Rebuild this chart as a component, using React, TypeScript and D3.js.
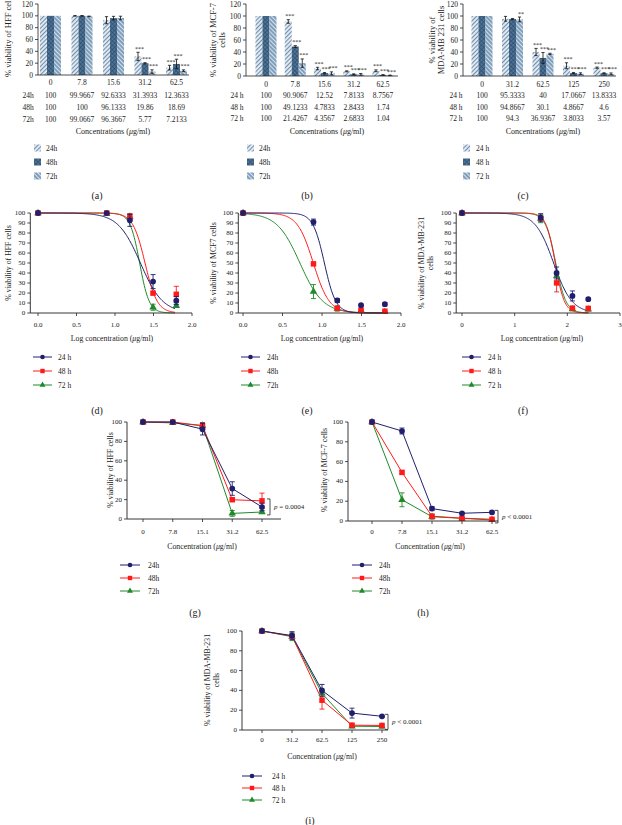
import React from "react";
import * as d3 from "d3";

const FONT = "'Liberation Serif','Times New Roman',serif";
const NAVY = "#1f1f6e";
const RED = "#ff1a1a";
const GREEN = "#1f8a2a";
const COLORS = [NAVY, RED, GREEN];

// ---------- data ----------
const hffCats = ["0", "7.8", "15.6", "31.2", "62.5"];
const mcfCats = ["0", "7.8", "15.6", "31.2", "62.5"];
const mdaCats = ["0", "31.2", "62.5", "125", "250"];
const lineCatsHM = ["0", "7.8", "15.1", "31.2", "62.5"];
const lineCatsMda = ["0", "31.2", "62.5", "125", "250"];

const hffConc = [0, 7.8, 15.6, 31.2, 62.5];
const mcfConc = [0, 7.8, 15.6, 31.2, 62.5];
const mdaConc = [0, 31.2, 62.5, 125, 250];

const hff24 = [100, 99.9667, 92.6333, 31.3933, 12.3633];
const hff48 = [100, 100, 96.1333, 19.86, 18.69];
const hff72 = [100, 99.0667, 96.3667, 5.77, 7.2133];
const mcf24 = [100, 90.9067, 12.52, 7.8133, 8.7567];
const mcf48 = [100, 49.1233, 4.7833, 2.8433, 1.74];
const mcf72 = [100, 21.4267, 4.3567, 2.6833, 1.04];
const mda24 = [100, 95.3333, 40, 17.0667, 13.8333];
const mda48 = [100, 94.8667, 30.1, 4.8667, 4.6];
const mda72 = [100, 94.3, 36.9367, 3.8033, 3.57];

const hffSd24 = [0, 0.5, 6, 7, 4];
const hffSd48 = [0, 0.5, 3, 1, 8];
const hffSd72 = [0, 0.5, 3, 3, 1.5];
const mcfSd24 = [0, 3, 2, 0.8, 1.5];
const mcfSd48 = [0, 1.5, 1, 0.8, 0.5];
const mcfSd72 = [0, 7, 2.5, 1.5, 0.5];
const mdaSd24 = [0, 4, 6, 5, 1];
const mdaSd48 = [0, 1, 9, 1, 0.8];
const mdaSd72 = [0, 4, 1, 1.5, 1.5];

const hffStars24 = ["", "", "", "***", "***"];
const hffStars48 = ["", "", "", "***", "***"];
const hffStars72 = ["", "", "", "***", "***"];
const mcfStars24 = ["", "***", "***", "***", "***"];
const mcfStars48 = ["", "***", "***", "***", "***"];
const mcfStars72 = ["", "***", "***", "***", "***"];
const mdaStars24 = ["", "", "***", "***", "***"];
const mdaStars48 = ["", "", "***", "***", "***"];
const mdaStars72 = ["", "**", "***", "***", "***"];

// sigmoid fit parameters (log IC50, Hill slope) for 24h, 48h, 72h
const hffLogIC50 = [1.33, 1.39, 1.32];
const hffHill = [3, 5.5, 7];
const mcfLogIC50 = [1.03, 0.89, 0.72];
const mcfHill = [6, 4.3, 3];
const mdaLogIC50 = [1.74, 1.77, 1.78];
const mdaHill = [2.5, 5, 4.5];

const pHff = "= 0.0004";
const pMcf = "< 0.0001";
const pMda = "< 0.0001";

// ---------- helpers ----------
const Mu = () => <tspan fontStyle="italic">μ</tspan>;

const symGen = [
  d3.symbol(d3.symbolCircle, 26)(),
  d3.symbol(d3.symbolSquare, 30)(),
  d3.symbol(d3.symbolTriangle, 24)(),
];

function BarPanel({ cfg, cats, series, sds, stars, rowLabels, legLabels, yLines }: any) {
  const y = d3.scaleLinear().domain([0, 120]).range([cfg.y0, cfg.yTop]);
  const x = d3.scalePoint<string>().domain(cats).range([cfg.c0, cfg.c1]);
  const ticks = d3.range(0, 121, 20);
  const bw = cfg.bw;
  return (
    <g>
      {series.map((vals: number[], s: number) =>
        vals.map((v, i) => {
          const cx = (x(cats[i]) as number) + (s - 1) * bw;
          return (
            <rect key={`b${s}-${i}`} x={cx - bw / 2} y={y(v)} width={bw} height={cfg.y0 - y(v)} fill={`url(#bp${s})`} />
          );
        })
      )}
      {series.map((vals: number[], s: number) =>
        vals.map((v, i) => {
          const sd = sds[s][i];
          if (sd <= 0) return null;
          const cx = (x(cats[i]) as number) + (s - 1) * bw;
          return (
            <g key={`e${s}-${i}`} stroke="#111" strokeWidth={0.8}>
              <line x1={cx} x2={cx} y1={y(v - sd)} y2={y(v + sd)} />
              <line x1={cx - 1.6} x2={cx + 1.6} y1={y(v - sd)} y2={y(v - sd)} />
              <line x1={cx - 1.6} x2={cx + 1.6} y1={y(v + sd)} y2={y(v + sd)} />
            </g>
          );
        })
      )}
      {series.map((vals: number[], s: number) =>
        vals.map((v, i) => {
          const st = stars[s][i];
          if (!st) return null;
          const cx = (x(cats[i]) as number) + (s - 1) * bw + 1.5;
          return (
            <text key={`s${s}-${i}`} x={cx} y={y(v + sds[s][i]) - 1.5} fontSize={6} textAnchor="middle" fill="#222">
              {st}
            </text>
          );
        })
      )}
      {/* axes */}
      <line x1={cfg.axisX} x2={cfg.axisX} y1={cfg.y0} y2={cfg.yTop} stroke="#222" strokeWidth={0.8} />
      <line x1={cfg.axisX} x2={cfg.axisEnd} y1={cfg.y0} y2={cfg.y0} stroke="#222" strokeWidth={0.8} />
      {ticks.map((t) => (
        <g key={`t${t}`}>
          <line x1={cfg.axisX - 3} x2={cfg.axisX} y1={y(t)} y2={y(t)} stroke="#222" strokeWidth={0.8} />
          <text x={cfg.axisX - 5} y={y(t)} fontSize={7.5} textAnchor="end" dominantBaseline="central" fill="#222">
            {t}
          </text>
        </g>
      ))}
      {/* table */}
      {cats.map((c: string) => (
        <text key={`c${c}`} x={x(c)} y={cfg.catY} fontSize={7.5} textAnchor="middle" dominantBaseline="central" fill="#222">
          {c}
        </text>
      ))}
      {series.map((vals: number[], s: number) => (
        <g key={`row${s}`}>
          <text x={cfg.rowX} y={cfg.rowYs[s]} fontSize={7.5} textAnchor="middle" dominantBaseline="central" fill="#222">
            {rowLabels[s]}
          </text>
          {vals.map((v, i) => (
            <text key={i} x={x(cats[i])} y={cfg.rowYs[s]} fontSize={7.5} textAnchor="middle" dominantBaseline="central" fill="#222">
              {String(v)}
            </text>
          ))}
        </g>
      ))}
      <text x={cfg.concX} y={cfg.concY} fontSize={8} textAnchor="middle" dominantBaseline="central" fill="#222">
        Concentrations (<Mu />g/ml)
      </text>
      {/* y label */}
      {yLines.map((l: string, k: number) => (
        <text key={`yl${k}`} transform={`translate(${cfg.yLabX[k]},${cfg.yLabY}) rotate(-90)`} fontSize={8.5} textAnchor="middle" dominantBaseline="central" fill="#222">
          {l}
        </text>
      ))}
      {/* legend */}
      {legLabels.map((l: string, s: number) => (
        <g key={`lg${s}`}>
          <rect x={cfg.legIconX} y={cfg.legYs[s] - 3.5} width={7} height={7} fill={`url(#bp${s})`} />
          <text x={cfg.legTextX} y={cfg.legYs[s]} fontSize={7.5} dominantBaseline="central" fill="#222">
            {l}
          </text>
        </g>
      ))}
      <text x={cfg.panX} y={cfg.panY} fontSize={10} textAnchor="middle" dominantBaseline="central" fill="#222">
        {cfg.panel}
      </text>
    </g>
  );
}

function LineLegend({ cfg, legLabels }: any) {
  return (
    <g>
      {legLabels.map((l: string, s: number) => (
        <g key={`ll${s}`}>
          <line x1={cfg.legX0} x2={cfg.legX1} y1={cfg.legYs[s]} y2={cfg.legYs[s]} stroke={COLORS[s]} strokeWidth={1} />
          <path d={symGen[s] as string} transform={`translate(${(cfg.legX0 + cfg.legX1) / 2},${cfg.legYs[s]}) scale(0.8)`} fill={COLORS[s]} />
          <text x={cfg.legTextX} y={cfg.legYs[s]} fontSize={7.5} dominantBaseline="central" fill="#222">
            {l}
          </text>
        </g>
      ))}
      <text x={cfg.panX} y={cfg.panY} fontSize={10} textAnchor="middle" dominantBaseline="central" fill="#222">
        {cfg.panel}
      </text>
    </g>
  );
}

function CurvePanel({ cfg, conc, series, sds, ic50, hill, legLabels, yLines }: any) {
  const x = d3.scaleLinear().domain(cfg.xDom).range(cfg.xRange);
  const y = d3.scaleLinear().domain([0, 100]).range([cfg.y0, cfg.y100]);
  const xs = conc.map((c: number) => (c === 0 ? 0 : Math.log10(c)));
  const line = d3.line<[number, number]>().x((d) => x(d[0])).y((d) => y(d[1]));
  const grid = d3.range(0, cfg.xEnd + 0.0001, 0.01);
  const order = [2, 1, 0];
  return (
    <g>
      {order.map((s) => (
        <path
          key={`cv${s}`}
          d={line(grid.map((t) => [t, 100 / (1 + Math.pow(10, (t - ic50[s]) * hill[s]))] as [number, number])) as string}
          fill="none"
          stroke={COLORS[s]}
          strokeWidth={1}
        />
      ))}
      {order.map((s) =>
        series[s].map((v: number, i: number) => {
          const sd = sds[s][i];
          const px = x(xs[i]);
          return (
            <g key={`pt${s}-${i}`}>
              {sd > 0 && (
                <g stroke={COLORS[s]} strokeWidth={0.9}>
                  <line x1={px} x2={px} y1={y(v - sd)} y2={y(v + sd)} />
                  <line x1={px - 2.5} x2={px + 2.5} y1={y(v - sd)} y2={y(v - sd)} />
                  <line x1={px - 2.5} x2={px + 2.5} y1={y(v + sd)} y2={y(v + sd)} />
                </g>
              )}
              <path d={symGen[s] as string} transform={`translate(${px},${y(v)})`} fill={COLORS[s]} />
            </g>
          );
        })
      )}
      {/* axes */}
      <line x1={x(cfg.xDom[0])} x2={x(cfg.xDom[0])} y1={cfg.y0} y2={cfg.y100} stroke="#222" strokeWidth={0.9} />
      <line x1={x(cfg.xDom[0])} x2={x(cfg.xDom[1])} y1={cfg.y0} y2={cfg.y0} stroke="#222" strokeWidth={0.9} />
      {d3.range(0, 101, 10).map((t) => (
        <g key={`yt${t}`}>
          <line x1={x(cfg.xDom[0]) - 3} x2={x(cfg.xDom[0])} y1={y(t)} y2={y(t)} stroke="#222" strokeWidth={0.8} />
          <text x={x(cfg.xDom[0]) - 5} y={y(t)} fontSize={7} textAnchor="end" dominantBaseline="central" fill="#222">
            {t}
          </text>
        </g>
      ))}
      {cfg.xTicks.map((t: number) => (
        <g key={`xt${t}`}>
          <line x1={x(t)} x2={x(t)} y1={cfg.y0} y2={cfg.y0 + 3} stroke="#222" strokeWidth={0.8} />
          <text x={x(t)} y={cfg.y0 + 12} fontSize={7} textAnchor="middle" dominantBaseline="central" fill="#222">
            {d3.format(cfg.xFmt)(t)}
          </text>
        </g>
      ))}
      <text x={cfg.titleX} y={cfg.titleY} fontSize={7.8} textAnchor="middle" dominantBaseline="central" fill="#222">
        Log concentration (<Mu />g/ml)
      </text>
      {yLines.map((l: string, k: number) => (
        <text key={`yl${k}`} transform={`translate(${cfg.yLabX[k]},${cfg.yLabY}) rotate(-90)`} fontSize={7.8} textAnchor="middle" dominantBaseline="central" fill="#222">
          {l}
        </text>
      ))}
      <LineLegend cfg={cfg} legLabels={legLabels} />
    </g>
  );
}

function CatPanel({ cfg, cats, series, sds, pText, legLabels, yLines }: any) {
  const x = d3.scalePoint<string>().domain(cats).range([cfg.c0, cfg.c1]);
  const y = d3.scaleLinear().domain([0, 100]).range([cfg.y0, cfg.y100]);
  const order = [2, 1, 0];
  const line = d3.line<number>().x((_, i) => x(cats[i]) as number).y((d) => y(d));
  const last = series.map((v: number[]) => v[v.length - 1]);
  const bTop = y((d3.max(last) as number) + 2);
  const bBot = y((d3.min(last) as number) - 3);
  const bx = (x(cats[cats.length - 1]) as number) + cfg.bOff;
  return (
    <g>
      {order.map((s) => (
        <path key={`ln${s}`} d={line(series[s]) as string} fill="none" stroke={COLORS[s]} strokeWidth={1} />
      ))}
      {order.map((s) =>
        series[s].map((v: number, i: number) => {
          const sd = sds[s][i];
          const px = x(cats[i]) as number;
          return (
            <g key={`pt${s}-${i}`}>
              {sd > 0 && (
                <g stroke={COLORS[s]} strokeWidth={0.9}>
                  <line x1={px} x2={px} y1={y(v - sd)} y2={y(v + sd)} />
                  <line x1={px - 2.5} x2={px + 2.5} y1={y(v - sd)} y2={y(v - sd)} />
                  <line x1={px - 2.5} x2={px + 2.5} y1={y(v + sd)} y2={y(v + sd)} />
                </g>
              )}
              <path d={symGen[s] as string} transform={`translate(${px},${y(v)})`} fill={COLORS[s]} />
            </g>
          );
        })
      )}
      <line x1={cfg.axisX} x2={cfg.axisX} y1={cfg.y0} y2={cfg.y100} stroke="#222" strokeWidth={0.9} />
      <line x1={cfg.axisX} x2={cfg.axisEnd} y1={cfg.y0} y2={cfg.y0} stroke="#222" strokeWidth={0.9} />
      {d3.range(0, 101, 20).map((t) => (
        <g key={`yt${t}`}>
          <line x1={cfg.axisX - 3} x2={cfg.axisX} y1={y(t)} y2={y(t)} stroke="#222" strokeWidth={0.8} />
          <text x={cfg.axisX - 5} y={y(t)} fontSize={7} textAnchor="end" dominantBaseline="central" fill="#222">
            {t}
          </text>
        </g>
      ))}
      {cats.map((c: string) => (
        <g key={`xt${c}`}>
          <line x1={x(c)} x2={x(c)} y1={cfg.y0} y2={cfg.y0 + 3} stroke="#222" strokeWidth={0.8} />
          <text x={x(c)} y={cfg.xLabY} fontSize={7} textAnchor="middle" dominantBaseline="central" fill="#222">
            {c}
          </text>
        </g>
      ))}
      {/* bracket */}
      <g stroke="#222" strokeWidth={0.8} fill="none">
        <path d={`M${bx - 3},${bTop}H${bx}V${bBot}H${bx - 3}`} />
      </g>
      <text x={bx + 4} y={(bTop + bBot) / 2} fontSize={7} dominantBaseline="central" fill="#222">
        <tspan fontStyle="italic">p</tspan> {pText}
      </text>
      <text x={cfg.titleX} y={cfg.titleY} fontSize={7.8} textAnchor="middle" dominantBaseline="central" fill="#222">
        Concentration (<Mu />g/ml)
      </text>
      {yLines.map((l: string, k: number) => (
        <text key={`yl${k}`} transform={`translate(${cfg.yLabX[k]},${cfg.yLabY}) rotate(-90)`} fontSize={7.8} textAnchor="middle" dominantBaseline="central" fill="#222">
          {l}
        </text>
      ))}
      <LineLegend cfg={cfg} legLabels={legLabels} />
    </g>
  );
}

// ---------- layouts ----------
const cfgA = { axisX: 38, c0: 50.5, c1: 176.5, axisEnd: 189, y0: 75, yTop: 4, bw: 7, catY: 82, rowYs: [95, 107, 119], concY: 131, concX: 113, rowX: 28, yLabX: [8], yLabY: 36, legIconX: 34, legTextX: 46, legYs: [148, 162, 176], panX: 97, panY: 195, panel: "(a)" };
const cfgB = { axisX: 246, c0: 266, c1: 383, axisEnd: 398, y0: 76, yTop: 4, bw: 7, catY: 84, rowYs: [95, 107, 118], concY: 131, concX: 327, rowX: 237, yLabX: [213, 222], yLabY: 40, legIconX: 247, legTextX: 259, legYs: [148, 162, 176], panX: 307, panY: 195, panel: "(b)" };
const cfgC = { axisX: 463, c0: 482, c1: 604, axisEnd: 616, y0: 76, yTop: 4, bw: 7, catY: 84, rowYs: [95, 107, 118], concY: 131, concX: 543, rowX: 456, yLabX: [432, 441], yLabY: 40, legIconX: 463, legTextX: 476, legYs: [148, 162, 176], panX: 523, panY: 195, panel: "(c)" };

const cfgD = { xDom: [-0.1, 2], xRange: [30.3, 192], xEnd: 1.78, xTicks: [0, 0.5, 1, 1.5, 2], xFmt: ".1f", y0: 313, y100: 213, titleX: 112, titleY: 338, yLabX: [8], yLabY: 263, legX0: 33, legX1: 52, legTextX: 58, legYs: [357, 371, 385], panX: 97, panY: 410, panel: "(d)" };
const cfgE = { xDom: [-0.06, 2], xRange: [238.3, 401], xEnd: 1.8, xTicks: [0, 0.5, 1, 1.5, 2], xFmt: ".1f", y0: 313, y100: 213, titleX: 322, titleY: 338, yLabX: [213], yLabY: 263, legX0: 241, legX1: 260, legTextX: 267, legYs: [357, 371, 385], panX: 307, panY: 410, panel: "(e)" };
const cfgF = { xDom: [-0.11, 3], xRange: [456.2, 620], xEnd: 2.4, xTicks: [0, 1, 2, 3], xFmt: "d", y0: 313, y100: 213, titleX: 542, titleY: 338, yLabX: [421, 430], yLabY: 263, legX0: 462, legX1: 481, legTextX: 488, legYs: [357, 371, 385], panX: 523, panY: 410, panel: "(f)" };

const cfgG = { axisX: 127, c0: 143, c1: 262, axisEnd: 281, y0: 519, y100: 422, bOff: 8, xLabY: 532, titleX: 202, titleY: 546, yLabX: [110], yLabY: 470, legX0: 120, legX1: 140, legTextX: 148, legYs: [565, 578, 591], panX: 195, panY: 612, panel: "(g)" };
const cfgH = { axisX: 348, c0: 372, c1: 492, axisEnd: 498, y0: 521, y100: 422, bOff: 6, xLabY: 532, titleX: 430, titleY: 546, yLabX: [324], yLabY: 470, legX0: 352, legX1: 372, legTextX: 379, legYs: [565, 578, 591], panX: 423, panY: 612, panel: "(h)" };
const cfgI = { axisX: 242, c0: 262, c1: 382, axisEnd: 388, y0: 730, y100: 631, bOff: 6, xLabY: 740, titleX: 322, titleY: 756, yLabX: [207, 216], yLabY: 680, legX0: 242, legX1: 262, legTextX: 272, legYs: [776, 788, 800], panX: 310, panY: 820, panel: "(i)" };

export default function App() {
  return (
    <svg width={622} height={825} style={{ position: "absolute", left: 0, top: 0, background: "#fff" }} fontFamily={FONT}>
      <defs>
        <pattern id="bp0" width={3} height={3} patternUnits="userSpaceOnUse" patternTransform="rotate(45)">
          <rect width={3} height={3} fill="#e2eaf2" />
          <line x1={0.5} y1={0} x2={0.5} y2={3} stroke="#6f8eab" strokeWidth={1.1} />
        </pattern>
        <pattern id="bp1" width={3} height={3} patternUnits="userSpaceOnUse" patternTransform="rotate(45)">
          <rect width={3} height={3} fill="#4f7496" />
          <line x1={0.5} y1={0} x2={0.5} y2={3} stroke="#2e4e6d" strokeWidth={0.7} />
          <line x1={0} y1={0.5} x2={3} y2={0.5} stroke="#2e4e6d" strokeWidth={0.7} />
        </pattern>
        <pattern id="bp2" width={3} height={3} patternUnits="userSpaceOnUse" patternTransform="rotate(-45)">
          <rect width={3} height={3} fill="#7f9fbd" />
          <line x1={0.5} y1={0} x2={0.5} y2={3} stroke="#dfe8f0" strokeWidth={0.9} />
        </pattern>
      </defs>

      <BarPanel cfg={cfgA} cats={hffCats} series={[hff24, hff48, hff72]} sds={[hffSd24, hffSd48, hffSd72]} stars={[hffStars24, hffStars48, hffStars72]} rowLabels={["24h", "48h", "72h"]} legLabels={["24h", "48h", "72h"]} yLines={["% viability of HFF cells"]} />
      <BarPanel cfg={cfgB} cats={mcfCats} series={[mcf24, mcf48, mcf72]} sds={[mcfSd24, mcfSd48, mcfSd72]} stars={[mcfStars24, mcfStars48, mcfStars72]} rowLabels={["24 h", "48 h", "72 h"]} legLabels={["24h", "48h", "72h"]} yLines={["% viability of MCF-7", "cells"]} />
      <BarPanel cfg={cfgC} cats={mdaCats} series={[mda24, mda48, mda72]} sds={[mdaSd24, mdaSd48, mdaSd72]} stars={[mdaStars24, mdaStars48, mdaStars72]} rowLabels={["24 h", "48 h", "72 h"]} legLabels={["24 h", "48 h", "72 h"]} yLines={["% viability of", "MDA-MB 231 cells"]} />

      <CurvePanel cfg={cfgD} conc={hffConc} series={[hff24, hff48, hff72]} sds={[hffSd24, hffSd48, hffSd72]} ic50={hffLogIC50} hill={hffHill} legLabels={["24 h", "48 h", "72 h"]} yLines={["% viability of HFF cells"]} />
      <CurvePanel cfg={cfgE} conc={mcfConc} series={[mcf24, mcf48, mcf72]} sds={[mcfSd24, mcfSd48, mcfSd72]} ic50={mcfLogIC50} hill={mcfHill} legLabels={["24h", "48h", "72h"]} yLines={["% viability of MCF7 cells"]} />
      <CurvePanel cfg={cfgF} conc={mdaConc} series={[mda24, mda48, mda72]} sds={[mdaSd24, mdaSd48, mdaSd72]} ic50={mdaLogIC50} hill={mdaHill} legLabels={["24 h", "48 h", "72 h"]} yLines={["% viability of MDA-MB-231", "cells"]} />

      <CatPanel cfg={cfgG} cats={lineCatsHM} series={[hff24, hff48, hff72]} sds={[hffSd24, hffSd48, hffSd72]} pText={pHff} legLabels={["24h", "48h", "72h"]} yLines={["% viability of HFF cells"]} />
      <CatPanel cfg={cfgH} cats={lineCatsHM} series={[mcf24, mcf48, mcf72]} sds={[mcfSd24, mcfSd48, mcfSd72]} pText={pMcf} legLabels={["24h", "48h", "72h"]} yLines={["% viability of MCF-7 cells"]} />
      <CatPanel cfg={cfgI} cats={lineCatsMda} series={[mda24, mda48, mda72]} sds={[mdaSd24, mdaSd48, mdaSd72]} pText={pMda} legLabels={["24 h", "48 h", "72 h"]} yLines={["% viability of MDA-MB-231", "cells"]} />
    </svg>
  );
}
